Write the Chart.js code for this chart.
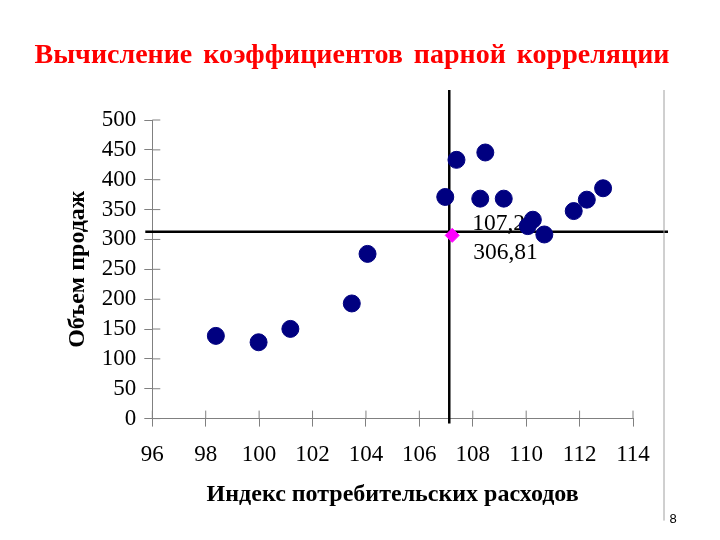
<!DOCTYPE html>
<html><head><meta charset="utf-8">
<script src="https://cdn.jsdelivr.net/npm/chart.js@4"></script>
<style>html,body{margin:0;padding:0;background:#fff}#wrap{width:720px;height:540px}</style>
</head><body><div id="wrap"><canvas id="c" width="720" height="540"></canvas></div>
<script>
const indexX = [98.38, 99.98, 101.17, 103.47, 104.06, 106.97, 107.39, 108.47, 108.28, 109.16, 110.25, 110.06, 110.68, 111.78, 112.27, 112.88];
const salesY = [138.5, 127.8, 150.2, 192.8, 275.8, 371.1, 433.3, 445.6, 368.3, 368.3, 333.0, 322.3, 308.3, 347.5, 366.6, 385.7];
const meanX = 107.23;
const meanY = 306.81;
const meanLabels = ['107,23', '306,81'];
const guideX = 107.12;
const guideY = 313;
const xTicks = [96, 98, 100, 102, 104, 106, 108, 110, 112, 114];
const yTicks = [0, 50, 100, 150, 200, 250, 300, 350, 400, 450, 500];
const titleText = 'Вычисление коэффициентов парной корреляции';
const xTitle = 'Индекс потребительских расходов';
const yTitle = 'Объем продаж';
const slideNumber = '8';

const serif = '"Liberation Serif", "DejaVu Serif", serif';

const decor = {
  id: 'decor',
  beforeDatasetsDraw(chart) {
    const {ctx, chartArea: a, scales: {x, y}} = chart;
    ctx.save();
    ctx.strokeStyle = '#808080'; ctx.lineWidth = 1;
    y.ticks.forEach(t => { const py = y.getPixelForValue(t.value); ctx.beginPath(); ctx.moveTo(a.left, py); ctx.lineTo(a.left + 8, py); ctx.stroke(); });
    x.ticks.forEach(t => { const px = x.getPixelForValue(t.value); ctx.beginPath(); ctx.moveTo(px, a.bottom); ctx.lineTo(px, a.bottom - 8); ctx.stroke(); });
    ctx.strokeStyle = '#000'; ctx.lineWidth = 2.5;
    const gx = x.getPixelForValue(guideX), gy = y.getPixelForValue(guideY);
    ctx.beginPath(); ctx.moveTo(gx, a.top - 30); ctx.lineTo(gx, a.bottom + 5); ctx.stroke();
    ctx.beginPath(); ctx.moveTo(a.left - 7, gy); ctx.lineTo(a.right + 35, gy); ctx.stroke();
    const mx = x.getPixelForValue(meanX), my = y.getPixelForValue(meanY);
    ctx.fillStyle = '#000'; ctx.font = '23.5px ' + serif; ctx.textAlign = 'left'; ctx.textBaseline = 'middle';
    ctx.fillText(meanLabels[0], mx + 20, my - 12);
    ctx.fillText(meanLabels[1], mx + 21, my + 17);
    ctx.restore();
  },
  afterDraw(chart) {
    const {ctx, chartArea: a} = chart;
    ctx.save();
    ctx.strokeStyle = '#a0a0a0'; ctx.lineWidth = 1;
    ctx.beginPath(); ctx.moveTo(a.right + 31, a.top - 30); ctx.lineTo(a.right + 31, a.bottom + 102); ctx.stroke();
    ctx.fillStyle = '#000'; ctx.font = '13px "Liberation Sans", Arial, sans-serif'; ctx.textAlign = 'center'; ctx.textBaseline = 'middle';
    ctx.fillText(slideNumber, a.right + 40, a.bottom + 101);
    // slide title
    ctx.fillStyle = '#FF0000'; ctx.font = 'bold 28px ' + serif;
    try { ctx.letterSpacing = '0px'; ctx.wordSpacing = '4px'; } catch (e) {}
    ctx.textAlign = 'left'; ctx.textBaseline = 'middle';
    const w = ctx.measureText(titleText).width;
    ctx.fillText(titleText, 352 - w / 2, 56);
    ctx.restore();
  }
};

new Chart(document.getElementById('c'), {
  type: 'scatter',
  data: {
    datasets: [
      {
        data: indexX.map((v, i) => ({x: v, y: salesY[i]})),
        backgroundColor: '#000080', borderColor: '#000080',
        pointRadius: 8.5, pointHoverRadius: 8.5, pointStyle: 'circle'
      },
      {
        data: [{x: meanX, y: meanY}],
        backgroundColor: '#FF00FF', borderColor: '#FF00FF',
        pointRadius: 7, pointHoverRadius: 7, pointStyle: 'rectRot'
      }
    ]
  },
  options: {
    responsive: false, animation: false, devicePixelRatio: 1,
    layout: {padding: {left: 63, right: 87, top: 120, bottom: 31}},
    plugins: {
      legend: {display: false}, tooltip: {enabled: false}, title: {display: false}
    },
    scales: {
      x: {
        type: 'linear', min: 96, max: 114,
        afterBuildTicks: s => { s.ticks = xTicks.map(v => ({value: v})); },
        ticks: {color: '#000', font: {family: serif, size: 23}, padding: 15, maxRotation: 0, autoSkip: false},
        grid: {display: true, drawOnChartArea: false, drawTicks: true, tickLength: 8, color: '#808080'},
        border: {display: true, color: '#808080', width: 1},
        title: {display: true, text: xTitle, color: '#000', font: {family: serif, size: 24, weight: 'bold'}, padding: {top: -4, bottom: 0}}
      },
      y: {
        type: 'linear', min: 0, max: 500,
        afterBuildTicks: s => { s.ticks = yTicks.map(v => ({value: v})); },
        ticks: {color: '#000', font: {family: serif, size: 23}, padding: 8, autoSkip: false},
        grid: {display: true, drawOnChartArea: false, drawTicks: true, tickLength: 8, color: '#808080'},
        border: {display: true, color: '#808080', width: 1},
        title: {display: true, text: yTitle, color: '#000', font: {family: serif, size: 24, weight: 'bold'}, padding: {top: 0, bottom: 2}}
      }
    }
  },
  plugins: [decor]
});
</script>
</body></html>
